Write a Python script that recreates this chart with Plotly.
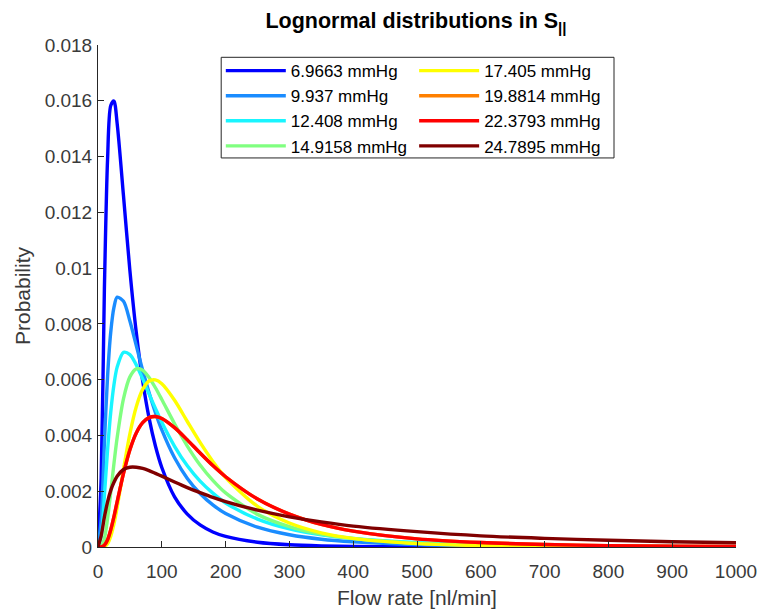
import plotly.graph_objects as go

# Flow rate sample points [nl/min]
flow = [0, 5, 10, 15, 20, 25, 30, 40, 50, 60, 70, 80, 90, 100, 120, 140, 160, 180, 200,
        250, 300, 350, 400, 500, 600, 700, 800, 900, 1000]

labels = ["6.9663 mmHg", "9.937 mmHg", "12.408 mmHg", "14.9158 mmHg",
          "17.405 mmHg", "19.8814 mmHg", "22.3793 mmHg", "24.7895 mmHg"]

p_6_9663 = [0, 0.00249, 0.00923, 0.01390, 0.01583, 0.01599, 0.01519, 0.01258, 0.00991, 0.00769,
            0.00596, 0.00463, 0.00362, 0.00285, 0.00180, 0.00118, 0.00079, 0.00054, 0.00038,
            0.00017, 0.00008, 0.00004, 0.00002, 0.00001, 0.000003, 0.000002, 0.000001, 0.000001, 0.0]
p_9_937 = [0, 0.00099, 0.00371, 0.00612, 0.00771, 0.00859, 0.00896, 0.00881, 0.00810, 0.00722,
           0.00634, 0.00554, 0.00482, 0.00420, 0.00320, 0.00246, 0.00192, 0.00151, 0.00120,
           0.00071, 0.00044, 0.00028, 0.00019, 0.00009, 0.00005, 0.00003, 0.000016, 0.00001, 0.0000065]
p_12_408 = [0, 0.00038, 0.00183, 0.00348, 0.00484, 0.00582, 0.00645, 0.00698, 0.00690, 0.00653,
            0.00603, 0.00549, 0.00497, 0.00447, 0.00361, 0.00291, 0.00236, 0.00193, 0.00158,
            0.00100, 0.00065, 0.00044, 0.00031, 0.00016, 0.00009, 0.00005, 0.00003, 0.00002, 0.000014]
p_14_9158 = [0, 0.00002, 0.00031, 0.00102, 0.00197, 0.00299, 0.00392, 0.00532, 0.00610, 0.00639,
             0.00634, 0.00608, 0.00571, 0.00529, 0.00442, 0.00362, 0.00294, 0.00239, 0.00194,
             0.00117, 0.00073, 0.00046, 0.00030, 0.00014, 0.00007, 0.000036, 0.00002, 0.000012, 0.000007]
p_17_405 = [0, 0.0, 0.000016, 0.00012, 0.00039, 0.00083, 0.00142, 0.00279, 0.00406, 0.00503,
            0.00565, 0.00595, 0.00599, 0.00585, 0.00526, 0.00450, 0.00375, 0.00307, 0.00249,
            0.00146, 0.00086, 0.00051, 0.00031, 0.00012, 0.00005, 0.000024, 0.000012, 0.000006, 0.000003]
p_19_8814 = [0, 0.0, 0.00006, 0.00026, 0.00062, 0.00109, 0.00162, 0.00264, 0.00349, 0.00409,
             0.00446, 0.00464, 0.00468, 0.00461, 0.00428, 0.00384, 0.00337, 0.00292, 0.00252,
             0.00172, 0.00118, 0.00081, 0.00057, 0.00029, 0.00016, 0.00009, 0.00005, 0.000033, 0.000021]
p_22_3793 = [0, 0.0, 0.00006, 0.00026, 0.00062, 0.00109, 0.00162, 0.00264, 0.00349, 0.00409,
             0.00446, 0.00464, 0.00468, 0.00461, 0.00428, 0.00384, 0.00337, 0.00292, 0.00252,
             0.00172, 0.00118, 0.00081, 0.00057, 0.00029, 0.00016, 0.00009, 0.00005, 0.000033, 0.000021]
p_24_7895 = [0, 0.00041, 0.00107, 0.00162, 0.00203, 0.00232, 0.00254, 0.00278, 0.00286, 0.00286,
             0.00282, 0.00274, 0.00264, 0.00254, 0.00233, 0.00213, 0.00195, 0.00178, 0.00163,
             0.00132, 0.00108, 0.00090, 0.00075, 0.00055, 0.00040, 0.00031, 0.00024, 0.00019, 0.00015]

series = [p_6_9663, p_9_937, p_12_408, p_14_9158, p_17_405, p_19_8814, p_22_3793, p_24_7895]
colors = ["#0000ff", "#1a8cff", "#19f5ff", "#80ff80", "#ffff00", "#ff8000", "#ff0000", "#800000"]

AX = "#262626"
TICK = "#3a3a3a"
FONT = "Liberation Sans, Arial, Helvetica, sans-serif"

fig = go.Figure()
for i, (lab, ys, col) in enumerate(zip(labels, series, colors)):
    fig.add_trace(go.Scatter(
        x=flow, y=ys, mode="lines", name=lab,
        line=dict(color=col, width=3.4, shape="spline", smoothing=0.8),
        legend="legend" if i < 4 else "legend2",
    ))

leg_common = dict(
    bgcolor="rgba(0,0,0,0)", borderwidth=0, font=dict(family=FONT, size=17, color="#000000"),
    itemwidth=60, xanchor="left", yanchor="top", orientation="v", tracegroupgap=0,
)

fig.update_layout(
    width=758, height=614,
    margin=dict(l=98, r=22, t=45, b=67),
    paper_bgcolor="white", plot_bgcolor="white",
    title=dict(text="<b>Lognormal distributions in S<sub>||</sub></b>",
               x=0.5488, xanchor="center", y=0.966, yanchor="middle", yref="container",
               font=dict(family=FONT, size=21.5, color="#000000")),
    legend=dict(x=0.1925, y=0.984, **leg_common),
    legend2=dict(x=0.4955, y=0.984, **leg_common),
    shapes=[dict(type="rect", xref="paper", yref="paper", x0=0.1931, x1=0.8088, y0=0.775, y1=0.9755,
                 line=dict(color=AX, width=1), fillcolor="rgba(0,0,0,0)", layer="above")],
    xaxis=dict(range=[0, 1000], dtick=100, tick0=0, showgrid=False, zeroline=False,
               showline=True, linecolor=AX, linewidth=1, ticks="inside", ticklen=6, tickcolor=AX,
               ticklabeloverflow="allow", ticklabelstandoff=7, automargin=False,
               tickfont=dict(family=FONT, size=19, color=TICK),
               title=dict(text="Flow rate [nl/min]", font=dict(family=FONT, size=21, color=TICK), standoff=9)),
    yaxis=dict(range=[0, 0.018], dtick=0.002, tick0=0, showgrid=False, zeroline=False,
               showline=True, linecolor=AX, linewidth=1, ticks="inside", ticklen=6, tickcolor=AX,
               ticklabelstandoff=1, automargin=False,
               tickfont=dict(family=FONT, size=19, color=TICK),
               title=dict(text="Probability", font=dict(family=FONT, size=21, color=TICK), standoff=8)),
    showlegend=True,
)

fig.write_html("out.html")
